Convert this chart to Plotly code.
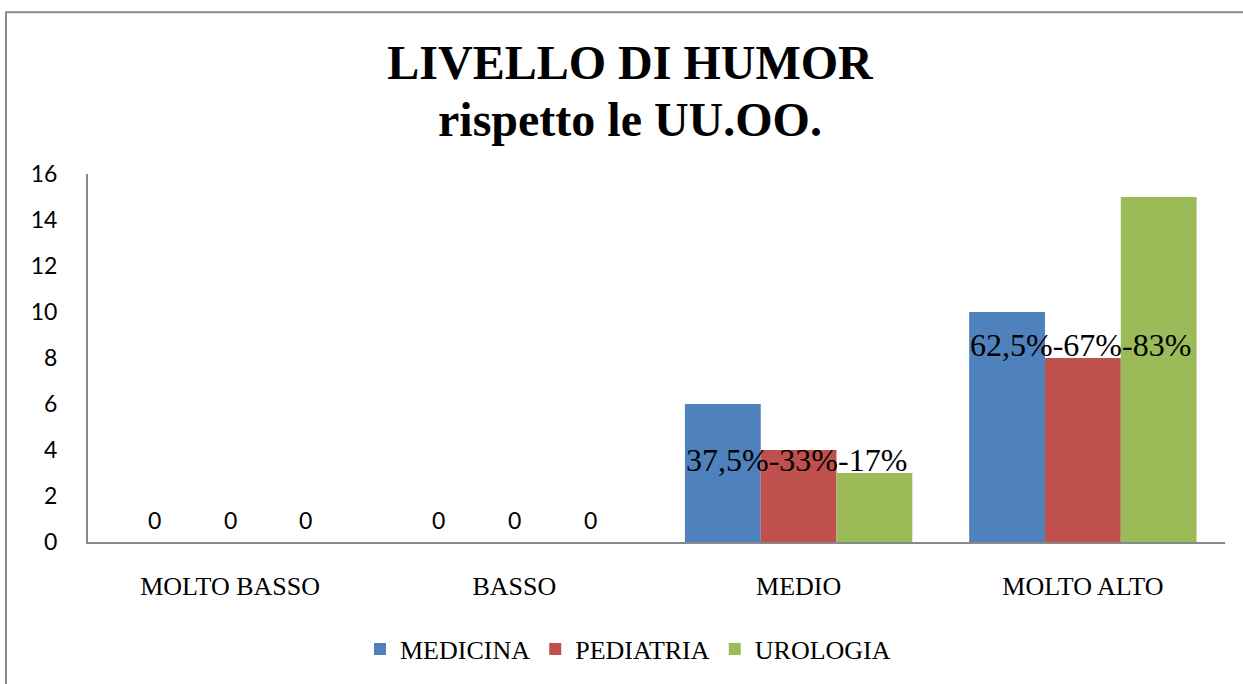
import plotly.graph_objects as go

categories = ["MOLTO BASSO", "BASSO", "MEDIO", "MOLTO ALTO"]
series_names = ["MEDICINA", "PEDIATRIA", "UROLOGIA"]
medicina = [0, 0, 6, 10]
pediatria = [0, 0, 4, 8]
urologia = [0, 0, 3, 15]
colors = ["#4F81BD", "#C0504D", "#9BBB59"]
pct_labels = ["", "", "37,5%-33%-17%", "62,5%-67%-83%"]
pct_label_y = [None, None, 3.55, 8.55]
zero_label_y = 0.95
y_ticks = [0, 2, 4, 6, 8, 10, 12, 14, 16]
title_line1 = "LIVELLO DI HUMOR"
title_line2 = "rispetto le UU.OO."

W, H = 1243, 684
L, R, T, B = 88, 18, 174, 139
pw = W - L - R
ph = H - T - B
SERIF = "Liberation Serif, Times New Roman, serif"

fig = go.Figure()
all_series = [medicina, pediatria, urologia]
for name, vals, col in zip(series_names, all_series, colors):
    fig.add_trace(go.Bar(x=categories, y=vals, name=name, marker=dict(color=col, line=dict(width=0))))

cat_w = pw / len(categories)
bar_w = cat_w * 0.8 / 3
annotations = []
for si, vals in enumerate(all_series):
    for ci, v in enumerate(vals):
        if v == 0:
            annotations.append(dict(x=categories[ci], y=zero_label_y, xref="x", yref="y", text="0",
                                    showarrow=False, xshift=(si - 1) * bar_w,
                                    font=dict(family="Lato", size=23, color="#000000")))
for ci, (t, yv) in enumerate(zip(pct_labels, pct_label_y)):
    if t:
        annotations.append(dict(x=categories[ci], y=yv, xref="x", yref="y", text=t, showarrow=False,
                                xshift=-2, font=dict(family=SERIF, size=32, color="#000000")))
annotations.append(dict(x=(630 - L) / pw, y=(545 - 119) / ph, xref="paper", yref="paper",
                        text="<b>" + title_line2 + "</b>",
                        showarrow=False, xanchor="center", yanchor="middle",
                        font=dict(family=SERIF, size=48, color="#000000")))

fig.update_layout(
    width=W, height=H,
    margin=dict(l=L, r=R, t=T, b=B),
    paper_bgcolor="#FFFFFF", plot_bgcolor="#FFFFFF",
    title=dict(text="<b>" + title_line1 + "</b>", x=630 / W, xanchor="center",
               y=1 - 62 / H, yanchor="middle", yref="container",
               font=dict(family=SERIF, size=48, color="#000000")),
    barmode="group", bargap=0.2, bargroupgap=0,
    showlegend=True,
    legend=dict(orientation="h", x=(360 - L) / pw, xanchor="left", y=(545 - 653) / ph, yanchor="middle",
                font=dict(family=SERIF, size=26, color="#000000"), itemwidth=30,
                traceorder="normal"),
    annotations=annotations,
    shapes=[dict(type="rect", xref="paper", yref="paper", x0=(6 - L) / pw, x1=1.2,
                 y0=-0.6, y1=(545 - 11) / ph, line=dict(color="#8C8C8C", width=2), layer="below")],
)
fig.update_xaxes(showline=True, linecolor="#888888", linewidth=2, ticks="", showgrid=False,
                 tickfont=dict(family=SERIF, size=26, color="#000000"),
                 ticklabelstandoff=20)
fig.update_yaxes(range=[0, 16], tickvals=y_ticks, showline=True, linecolor="#888888", linewidth=2,
                 ticks="", showgrid=False, zeroline=False,
                 tickfont=dict(family="Lato", size=23, color="#000000"), ticklabelstandoff=24)

fig.write_html("out.html", config={"displayModeBar": False},
               post_script="document.body.style.margin='0px';document.body.style.overflow='hidden';")
